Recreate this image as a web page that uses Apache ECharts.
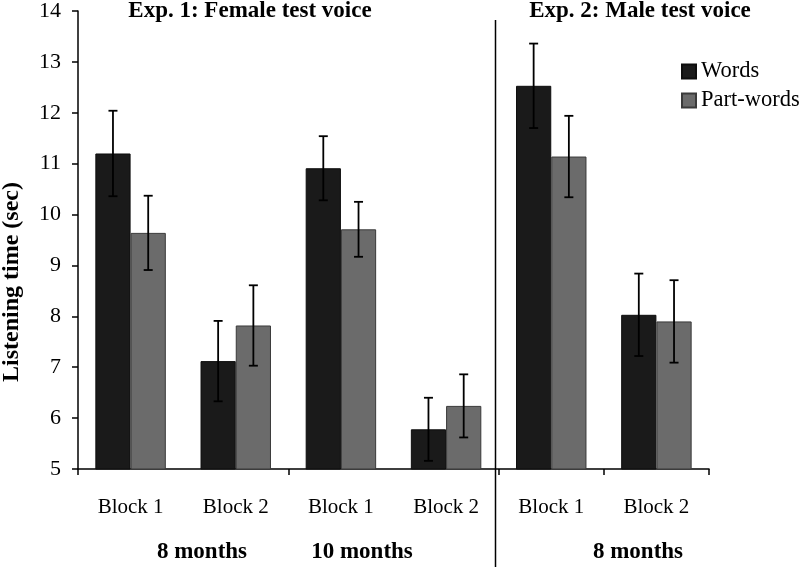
<!DOCTYPE html>
<html>
<head>
<meta charset="utf-8">
<script src="https://cdn.jsdelivr.net/npm/echarts@6/dist/echarts.min.js"></script>
<style>html,body{margin:0;padding:0;background:#fff;}#c{width:800px;height:567px;}</style>
</head>
<body>
<div id="c"></div>
<script>
const categories = ['Block 1', 'Block 2', 'Block 1', 'Block 2', 'Block 1', 'Block 2'];
const seriesNames = ['Words', 'Part-words'];
const words = [11.20, 7.12, 10.91, 5.78, 12.53, 8.03];
const wordsErr = [0.84, 0.79, 0.63, 0.62, 0.83, 0.81];
const partWords = [9.64, 7.82, 9.71, 6.24, 11.14, 7.90];
const partWordsErr = [0.73, 0.79, 0.54, 0.62, 0.80, 0.81];
const yTicks = [5, 6, 7, 8, 9, 10, 11, 12, 13, 14];
const groupTitles = ['Exp. 1: Female test voice', 'Exp. 2: Male test voice'];
const ageLabels = ['8 months', '10 months', '8 months'];
const yAxisTitle = 'Listening time (sec)';

const FONT = "'Liberation Serif','Times New Roman',serif";
const barGapRatio = 0.33;

const errData = [];
words.forEach((v, i) => errData.push([i, v - wordsErr[i], v + wordsErr[i], 0]));
partWords.forEach((v, i) => errData.push([i, v - partWordsErr[i], v + partWordsErr[i], 1]));

const chart = echarts.init(document.getElementById('c'), null, {renderer: 'canvas'});
chart.setOption({
  animation: false,
  backgroundColor: '#fff',
  grid: {left: 78, right: 91, top: 9, bottom: 98},
  legend: {
    data: seriesNames,
    orient: 'vertical',
    left: 676, top: 55,
    itemWidth: 14, itemHeight: 14, itemGap: 6,
    icon: 'rect',
    textStyle: {fontFamily: FONT, fontSize: 22.5, color: '#000', lineHeight: 22}
  },
  xAxis: {
    type: 'category',
    data: categories,
    axisLine: {lineStyle: {color: '#000', width: 1.5}},
    axisTick: {show: true, interval: 1, length: 6, lineStyle: {color: '#000', width: 1.5}},
    axisLabel: {interval: 0, margin: 28, fontFamily: FONT, fontSize: 21, color: '#000'},
    splitLine: {show: false}
  },
  yAxis: {
    type: 'value',
    min: yTicks[0], max: yTicks[yTicks.length - 1], interval: 1,
    axisLine: {show: true, lineStyle: {color: '#000', width: 1.5}},
    axisTick: {show: true, length: 6, lineStyle: {color: '#000', width: 1.5}},
    axisLabel: {margin: 17, fontFamily: FONT, fontSize: 22, color: '#000'},
    splitLine: {show: false}
  },
  series: [
    {
      name: seriesNames[0], type: 'bar', data: words,
      barGap: '0%', barCategoryGap: (barGapRatio * 100) + '%',
      itemStyle: {color: '#1a1a1a', borderColor: '#0d0d0d', borderWidth: 1}
    },
    {
      name: seriesNames[1], type: 'bar', data: partWords,
      barGap: '0%', barCategoryGap: (barGapRatio * 100) + '%',
      itemStyle: {color: '#6b6b6b', borderColor: '#3a3a3a', borderWidth: 1}
    },
    {
      type: 'custom', name: 'err', data: errData, z: 10,
      renderItem: function (params, api) {
        const idx = api.value(0);
        const s = api.value(3);
        const band = api.size([1, 0])[0];
        const bw = band * (1 - barGapRatio) / 2;
        const off = s === 0 ? -bw / 2 : bw / 2;
        const lo = api.coord([idx, api.value(1)]);
        const hi = api.coord([idx, api.value(2)]);
        const x = lo[0] + off;
        const cap = 4.5;
        const st = {stroke: '#000', lineWidth: 1.8};
        return {
          type: 'group',
          children: [
            {type: 'line', shape: {x1: x, y1: lo[1], x2: x, y2: hi[1]}, style: st},
            {type: 'line', shape: {x1: x - cap, y1: lo[1], x2: x + cap, y2: lo[1]}, style: st},
            {type: 'line', shape: {x1: x - cap, y1: hi[1], x2: x + cap, y2: hi[1]}, style: st}
          ]
        };
      }
    }
  ],
  graphic: [
    {type: 'line', shape: {x1: 495.5, y1: 20, x2: 495.5, y2: 567}, style: {stroke: '#000', lineWidth: 1.5}, z: 20},
    {type: 'text', x: 250, y: 11, style: {text: groupTitles[0], font: 'bold 23px ' + FONT, fill: '#000', textAlign: 'center', textVerticalAlign: 'middle'}},
    {type: 'text', x: 640, y: 11, style: {text: groupTitles[1], font: 'bold 23px ' + FONT, fill: '#000', textAlign: 'center', textVerticalAlign: 'middle'}},
    {type: 'text', x: 202, y: 552, style: {text: ageLabels[0], font: 'bold 23px ' + FONT, fill: '#000', textAlign: 'center', textVerticalAlign: 'middle'}},
    {type: 'text', x: 362, y: 552, style: {text: ageLabels[1], font: 'bold 23px ' + FONT, fill: '#000', textAlign: 'center', textVerticalAlign: 'middle'}},
    {type: 'text', x: 638, y: 552, style: {text: ageLabels[2], font: 'bold 23px ' + FONT, fill: '#000', textAlign: 'center', textVerticalAlign: 'middle'}},
    {type: 'text', x: 12, y: 282, rotation: Math.PI / 2, style: {text: yAxisTitle, font: 'bold 24px ' + FONT, fill: '#000', textAlign: 'center', textVerticalAlign: 'middle'}}
  ]
});
</script>
</body>
</html>
